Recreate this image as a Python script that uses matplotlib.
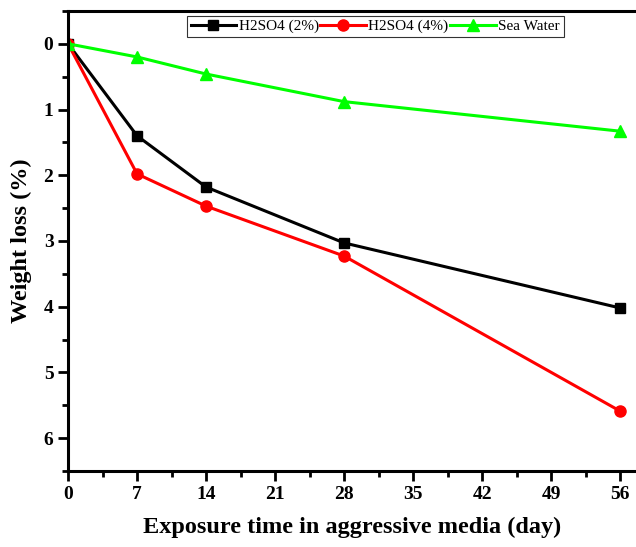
import numpy as np
import matplotlib.pyplot as plt
from matplotlib.ticker import MultipleLocator

days = [0, 7, 14, 28, 56]
h2so4_2 = [0, 1.40, 2.18, 3.03, 4.02]
h2so4_4 = [0, 1.98, 2.47, 3.23, 5.59]
sea_water = [0, 0.20, 0.46, 0.88, 1.33]

plt.rcParams['font.family'] = ['Liberation Serif', 'DejaVu Serif']

fig = plt.figure(figsize=(6.36, 5.47), dpi=100)
ax = fig.add_axes([0.107, 0.139, 0.893, 0.841])

ax.plot(days, h2so4_2, color='black', marker='s', markersize=7, linewidth=2.2, label='H2SO4 (2%)')
ax.plot(days, h2so4_4, color='#ff0000', marker='o', markersize=8, linewidth=2.2, label='H2SO4 (4%)')
ax.plot(days, sea_water, color='#00ff00', marker='^', markersize=8, linewidth=2.2, label='Sea Water')

ax.set_xlim(0, 57.6)
ax.set_ylim(6.5, -0.5)
ax.xaxis.set_major_locator(MultipleLocator(7))
ax.xaxis.set_minor_locator(MultipleLocator(3.5))
ax.set_yticks(range(0, 7))
ax.yaxis.set_minor_locator(MultipleLocator(0.5))

for s in ['left', 'bottom', 'top']:
    ax.spines[s].set_linewidth(2.2)
ax.spines['right'].set_visible(False)
ax.tick_params(which='major', direction='out', length=7, width=2, labelsize=14)
ax.tick_params(which='minor', direction='out', length=4, width=2)
for lab in ax.get_xticklabels() + ax.get_yticklabels():
    lab.set_fontweight('bold')

ax.set_xlabel('Exposure time in aggressive media (day)', fontsize=17.5, fontweight='bold', labelpad=10)
ax.set_ylabel('Weight loss (%)', fontsize=17.5, fontweight='bold', labelpad=8)

leg = ax.legend(loc='upper left', bbox_to_anchor=(0.209, 0.99), ncol=3, fontsize=11,
                frameon=True, fancybox=False, edgecolor='black', handlelength=3.0,
                columnspacing=0.1, handletextpad=0.15, borderpad=0.25, borderaxespad=0)
leg.get_frame().set_linewidth(0.8)

fig.savefig('out.png', dpi=100)
